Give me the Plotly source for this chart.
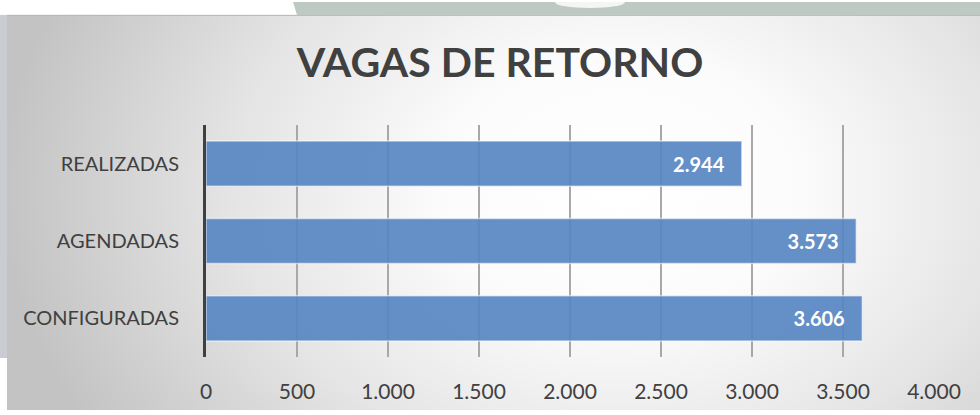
import base64
import plotly.graph_objects as go

categories = ["CONFIGURADAS", "AGENDADAS", "REALIZADAS"]
values = [3606, 3573, 2944]
tick_vals = [0, 500, 1000, 1500, 2000, 2500, 3000, 3500, 4000]
title_text = "VAGAS DE RETORNO"

W, H = 980, 415
L, R, T, B = 206, 46, 125, 54
pw, ph = W - L - R, H - T - B
FONT = "Lato, 'Open Sans', sans-serif"

svg = f'''<svg xmlns="http://www.w3.org/2000/svg" width="{W}" height="{H}" viewBox="0 0 {W} {H}" preserveAspectRatio="none">
<defs>
<radialGradient id="g" gradientUnits="userSpaceOnUse" cx="620" cy="190" r="620" gradientTransform="translate(620 190) scale(1 0.75) translate(-620 -190)">
<stop offset="0" stop-color="#ffffff"/>
<stop offset="0.28" stop-color="#fcfcfc"/>
<stop offset="0.62" stop-color="#e5e5e5"/>
<stop offset="1" stop-color="#c3c3c3"/>
</radialGradient>
</defs>
<rect x="0" y="0" width="{W}" height="{H}" fill="#ffffff"/>
<polygon points="293,0 980,0 980,13 297,13" fill="#bfc9c4"/>
<ellipse cx="590" cy="0" rx="35" ry="6" fill="#f4f6f5"/>
<rect x="0" y="13" width="7" height="349" fill="#c9ccd1"/>
<rect x="7" y="13" width="973" height="402" fill="url(#g)"/>
<line x1="7" y1="13.5" x2="980" y2="13.5" stroke="#b4b8b6" stroke-width="1"/>
</svg>'''
src = "data:image/svg+xml;base64," + base64.b64encode(svg.encode()).decode()

fig = go.Figure()
fig.add_trace(go.Bar(
    y=categories, x=values, orientation="h",
    marker=dict(color="rgba(88,134,194,0.92)", line=dict(color="rgba(255,255,255,0.55)", width=1.5)),
    width=0.585,
    texttemplate="%{x:,d}\u00a0\u00a0\u00a0", textposition="inside", insidetextanchor="end",
    textfont=dict(family=FONT, size=20, color="white", weight="bold"),
    hoverinfo="skip",
))

fig.update_layout(
    width=W, height=H,
    margin=dict(l=L, r=R, t=T, b=B, pad=0),
    paper_bgcolor="white", plot_bgcolor="rgba(0,0,0,0)",
    separators=",.",
    showlegend=False,
    title=dict(text="<b>" + title_text + "</b>", x=500 / W, xanchor="center", xref="container",
               y=1 - 62.5 / H, yanchor="middle",
               font=dict(family=FONT, size=41, color="#404040")),
    xaxis=dict(range=[0, 4000], tickvals=tick_vals, tickformat=",d",
               showgrid=True, gridcolor="#a8a8a8", gridwidth=1.5, zeroline=False,
               showline=False, ticks="", ticklabelstandoff=20,
               tickfont=dict(family=FONT, size=21, color="#404040")),
    yaxis=dict(showline=True, linecolor="#404040", linewidth=3, showgrid=False,
               ticks="", ticklabelstandoff=20, range=[-0.5, 2.5],
               tickfont=dict(family=FONT, size=20, color="#404040")),
    images=[dict(source=src, xref="paper", yref="paper",
                 x=-L / pw, y=(ph + T) / ph, sizex=W / pw, sizey=H / ph,
                 xanchor="left", yanchor="top", sizing="stretch", layer="below")],
)

fig.write_html("out.html", config={"displayModeBar": False},
               post_script="document.body.style.margin='0';document.body.style.overflow='hidden';")
